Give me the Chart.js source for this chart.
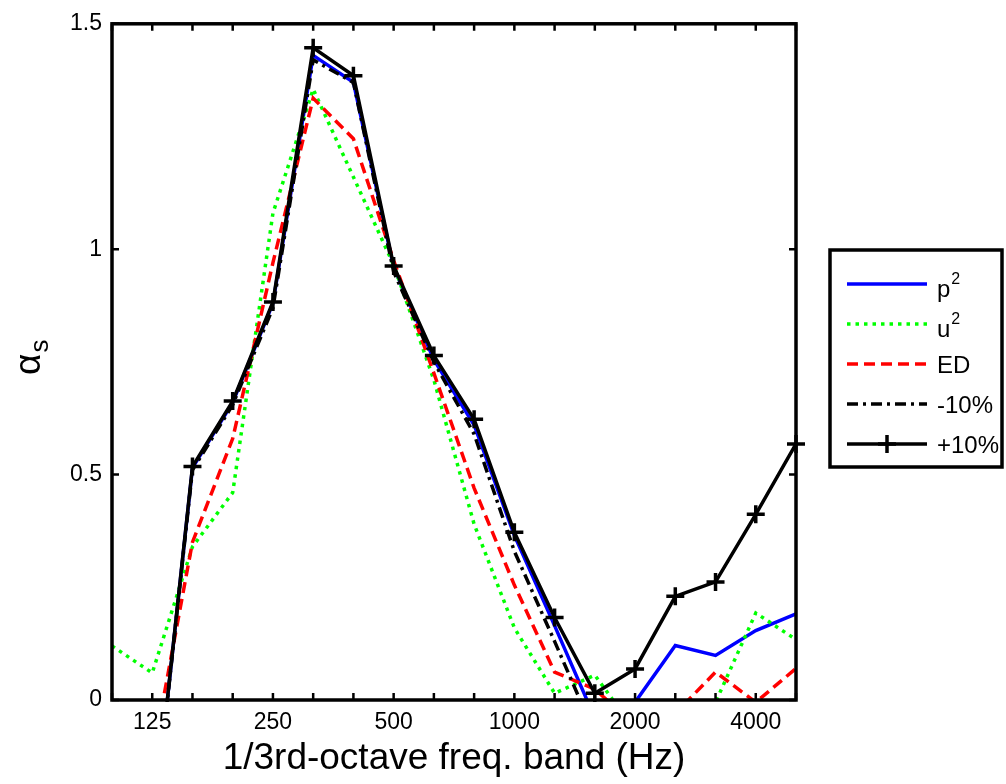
<!DOCTYPE html>
<html>
<head>
<meta charset="utf-8">
<script src="https://cdn.jsdelivr.net/npm/chart.js@4.4.1/dist/chart.umd.min.js"></script>
<style>
  html, body { margin: 0; padding: 0; background: #ffffff; }
  canvas { display: block; }
</style>
</head>
<body>
<canvas id="chart" width="1006" height="784"></canvas>
<script>
// 1/3-octave band centre frequencies (Hz)
const bands = ['100', '125', '160', '200', '250', '315', '400', '500', '630', '800',
               '1000', '1250', '1600', '2000', '2500', '3150', '4000', '5000'];
// bands that carry a tick label
const labeledBands = ['125', '250', '500', '1000', '2000', '4000'];
const yTicks = [0, 0.5, 1, 1.5];

// absorption coefficient per band for each estimator
const pSquared = [-0.6, -0.31, 0.515, 0.66, 0.88, 1.43, 1.37, 0.96, 0.755, 0.61,
                  0.365, 0.165, -0.04, -0.005, 0.121, 0.099, 0.154, 0.191];
const uSquared = [0.12, 0.06, 0.34, 0.46, 1.08, 1.355, 1.16, 0.965, 0.71, 0.39,
                  0.16, 0.015, 0.055, -0.067, -0.08, -0.005, 0.193, 0.134];
const energyDensity = [-0.3, -0.13, 0.35, 0.58, 0.97, 1.335, 1.245, 0.975, 0.725, 0.47,
                       0.255, 0.062, 0.024, -0.056, -0.03, 0.062, -0.005, 0.07];
const minus10 = [-0.6, -0.31, 0.51, 0.655, 0.87, 1.42, 1.37, 0.95, 0.75, 0.59,
                 0.33, 0.13, -0.075, -0.12, -0.1, -0.12, -0.08, -0.05];
const plus10 = [-0.6, -0.31, 0.518, 0.663, 0.883, 1.447, 1.385, 0.963, 0.764, 0.623,
                0.372, 0.183, 0.015, 0.069, 0.23, 0.262, 0.412, 0.568];

// legend entries: base text and superscript
const legendNames = [['p', '2'], ['u', '2'], ['ED', ''], ['-10%', ''], ['+10%', '']];

const FONT = "'Liberation Sans', Arial, Helvetica, sans-serif";

// axes box, inward tick marks and axis titles
const framePlugin = {
  id: 'frame',
  afterDraw(chart) {
    const { ctx, chartArea: a, scales: { x, y } } = chart;
    ctx.save();
    ctx.strokeStyle = '#000';
    ctx.lineWidth = 3.5;
    ctx.strokeRect(a.left, a.top, a.right - a.left, a.bottom - a.top);
    ctx.lineWidth = 2.5;
    ctx.beginPath();
    bands.forEach((b, i) => {
      const px = x.getPixelForValue(i);
      ctx.moveTo(px, a.bottom); ctx.lineTo(px, a.bottom - 7);
      ctx.moveTo(px, a.top); ctx.lineTo(px, a.top + 7);
    });
    yTicks.forEach(v => {
      const py = y.getPixelForValue(v);
      ctx.moveTo(a.left, py); ctx.lineTo(a.left + 7, py);
      ctx.moveTo(a.right, py); ctx.lineTo(a.right - 7, py);
    });
    ctx.stroke();

    // x-axis title
    ctx.fillStyle = '#000';
    ctx.font = '37px ' + FONT;
    ctx.textAlign = 'center';
    ctx.textBaseline = 'alphabetic';
    ctx.fillText('1/3rd-octave freq. band (Hz)', (a.left + a.right) / 2, 769);

    // y-axis title: alpha with subscript s
    ctx.translate(40, 375);
    ctx.rotate(-Math.PI / 2);
    ctx.textAlign = 'left';
    ctx.font = '37px ' + FONT;
    ctx.fillText('α', 0, 0);
    const w = ctx.measureText('α').width;
    ctx.font = '26px ' + FONT;
    ctx.fillText('s', w + 1, 8);
    ctx.restore();
  }
};

// boxed legend to the right of the axes
const legendPlugin = {
  id: 'boxLegend',
  afterDraw(chart) {
    const ctx = chart.ctx;
    const box = { left: 830, top: 250, right: 1002, bottom: 467 };
    ctx.save();
    ctx.fillStyle = '#fff';
    ctx.fillRect(box.left, box.top, box.right - box.left, box.bottom - box.top);
    ctx.strokeStyle = '#000';
    ctx.lineWidth = 3.5;
    ctx.strokeRect(box.left, box.top, box.right - box.left, box.bottom - box.top);

    chart.data.datasets.forEach((ds, i) => {
      const yRow = 284 + 40 * i;
      const x0 = 847, x1 = 927;
      ctx.strokeStyle = ds.borderColor;
      ctx.lineWidth = ds.borderWidth;
      ctx.setLineDash(ds.borderDash || []);
      ctx.lineCap = 'butt';
      ctx.beginPath();
      ctx.moveTo(x0, yRow); ctx.lineTo(x1, yRow);
      ctx.stroke();
      ctx.setLineDash([]);
      if (ds.pointStyle === 'cross') {
        const r = ds.pointRadius, cx = (x0 + x1) / 2;
        ctx.lineWidth = ds.pointBorderWidth;
        ctx.beginPath();
        ctx.moveTo(cx - r, yRow); ctx.lineTo(cx + r, yRow);
        ctx.moveTo(cx, yRow - r); ctx.lineTo(cx, yRow + r);
        ctx.stroke();
      }
      const [base, sup] = legendNames[i];
      ctx.fillStyle = '#000';
      ctx.textAlign = 'left';
      ctx.textBaseline = 'alphabetic';
      ctx.font = '24px ' + FONT;
      const baseY = sup ? yRow + 13 : yRow + 9;
      ctx.fillText(base, 937, baseY);
      if (sup) {
        const bw = ctx.measureText(base).width;
        ctx.font = '16px ' + FONT;
        ctx.fillText(sup, 937 + bw + 1, baseY - 13);
      }
    });
    ctx.restore();
  }
};

new Chart(document.getElementById('chart'), {
  type: 'line',
  data: {
    labels: bands,
    datasets: [
      { label: 'p2', data: pSquared, borderColor: '#0000ff', borderWidth: 3.5,
        pointRadius: 0, order: 5 },
      { label: 'u2', data: uSquared, borderColor: '#00ff00', borderWidth: 3.5,
        borderDash: [3.5, 5], pointRadius: 0, order: 4 },
      { label: 'ED', data: energyDensity, borderColor: '#ff0000', borderWidth: 3.5,
        borderDash: [11, 6], pointRadius: 0, order: 3 },
      { label: '-10%', data: minus10, borderColor: '#000000', borderWidth: 3.5,
        borderDash: [11, 5, 3, 5], pointRadius: 0, order: 2 },
      { label: '+10%', data: plus10, borderColor: '#000000', borderWidth: 3.5,
        pointStyle: 'cross', pointRadius: 9, pointBorderWidth: 3.5,
        pointBorderColor: '#000000', pointBackgroundColor: '#000000', order: 1,
        clip: { left: 2, top: 2, right: 12, bottom: 2 } }
    ]
  },
  options: {
    responsive: false,
    animation: false,
    devicePixelRatio: 1,
    layout: { padding: { top: 19, right: 210, left: 0, bottom: 0 } },
    elements: { line: { tension: 0, fill: false } },
    plugins: { legend: { display: false }, tooltip: { enabled: false } },
    scales: {
      x: {
        type: 'category',
        offset: false,
        grid: { display: false, drawTicks: false },
        border: { display: false },
        ticks: {
          autoSkip: false, maxRotation: 0, padding: 9, color: '#000',
          font: { family: FONT, size: 23 },
          callback: function (v, i) {
            const l = bands[i];
            return labeledBands.includes(l) ? l : '';
          }
        },
        afterFit: s => { s.height = 84; }
      },
      y: {
        type: 'linear', min: 0, max: 1.5,
        grid: { display: false, drawTicks: false },
        border: { display: false },
        ticks: {
          stepSize: 0.5, padding: 10, color: '#000',
          font: { family: FONT, size: 23 },
          callback: v => String(v)
        },
        afterFit: s => { s.width = 112; }
      }
    }
  },
  plugins: [framePlugin, legendPlugin]
});
</script>
</body>
</html>
